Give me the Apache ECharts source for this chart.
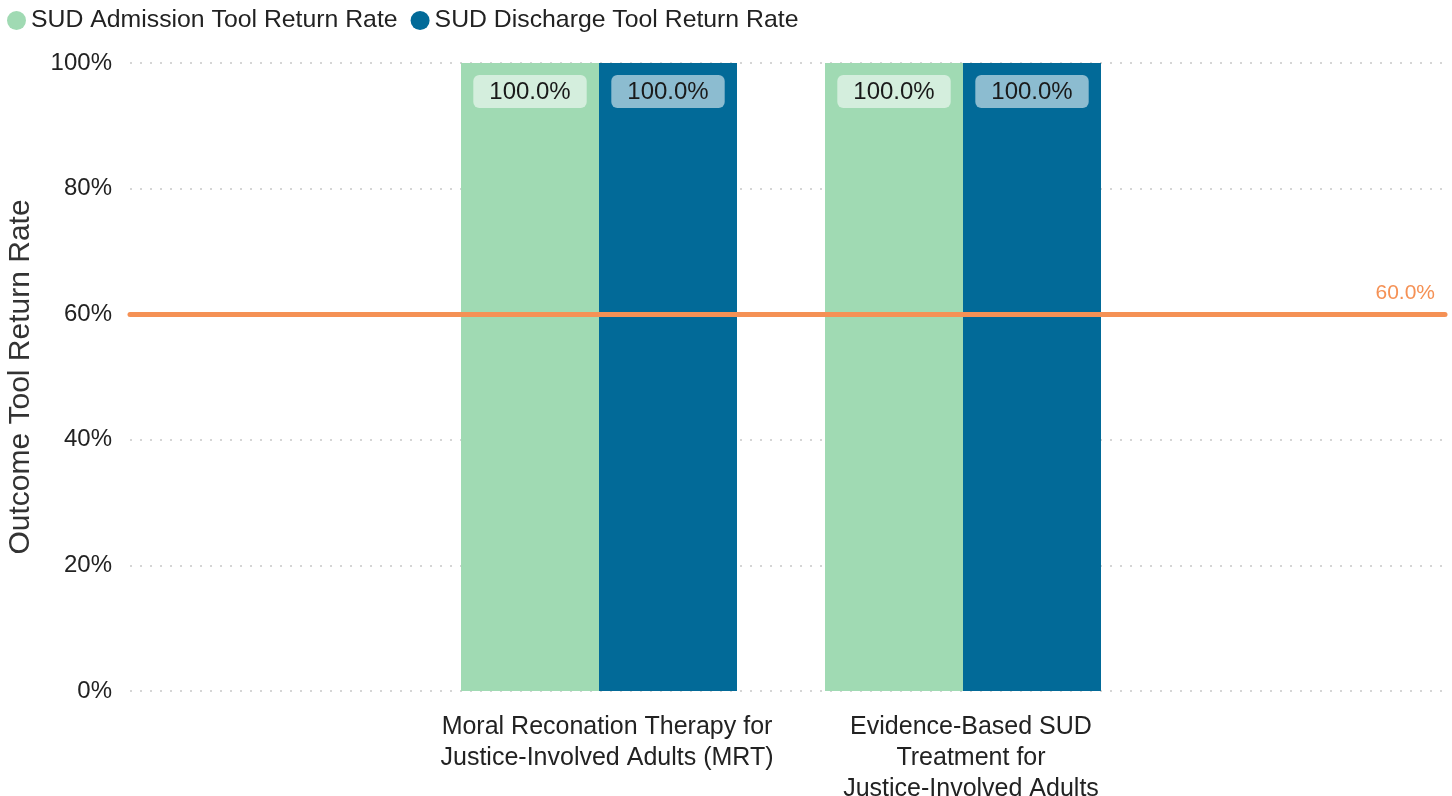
<!DOCTYPE html>
<html>
<head>
<meta charset="utf-8">
<script src="https://cdn.jsdelivr.net/npm/echarts@6/dist/echarts.min.js"></script>
<style>
  html, body { margin: 0; padding: 0; background: #fff; }
  #chart { width: 1452px; height: 796px; }
</style>
</head>
<body>
<div id="chart"></div>
<script>
// Programs shown on the x axis
const categories = [
  'Moral Reconation Therapy for\nJustice-Involved Adults (MRT)',
  'Evidence-Based SUD\nTreatment for\nJustice-Involved Adults'
];
// Return rates, in percent
const admissionRate = [100, 100];
const dischargeRate = [100, 100];
// Target return rate, in percent
const targetRate = 60;
// Y axis ticks
const yMin = 0, yMax = 100, yStep = 20;

const seriesNames = ['SUD Admission Tool Return Rate', 'SUD Discharge Tool Return Rate'];
const colors = ['#A0DAB3', '#026A98'];
const fontFamily = '"Liberation Sans", Arial, sans-serif';

const barLabel = {
  show: true,
  position: 'insideTop',
  distance: 12,
  formatter: p => p.value.toFixed(1) + '%',
  fontSize: 24,
  fontFamily,
  color: '#1a1a1a',
  backgroundColor: 'rgba(255,255,255,0.55)',
  borderRadius: 6,
  padding: [5, 16, 4, 16]
};

const chart = echarts.init(document.getElementById('chart'));
chart.setOption({
  animation: false,
  textStyle: { fontFamily },
  legend: {
    top: 8,
    left: 7,
    padding: 0,
    icon: 'circle',
    itemWidth: 19,
    itemHeight: 19,
    itemGap: 13,
    textStyle: { fontSize: 24.8, color: '#222' },
    data: seriesNames
  },
  grid: [
    { left: 130, right: 7, top: 63, bottom: 105, outerBoundsMode: 'none' },
    { left: 417, right: 307, top: 63, bottom: 105, outerBoundsMode: 'none' }
  ],
  xAxis: [
    { type: 'category', gridIndex: 0, data: [''], show: false },
    {
      type: 'category', gridIndex: 1, data: categories,
      axisLine: { show: false }, axisTick: { show: false },
      axisLabel: {
        interval: 0, hideOverlap: false,
        fontSize: 25, lineHeight: 31, color: '#222', margin: 21, fontFamily,
        padding: [0, 0, 0, 16]
      }
    }
  ],
  yAxis: [
    {
      type: 'value', gridIndex: 0, min: yMin, max: yMax, interval: yStep,
      name: 'Outcome Tool Return Rate',
      nameLocation: 'middle', nameGap: 94,
      nameTextStyle: { fontSize: 30, color: '#333' },
      axisLabel: { formatter: '{value}%', fontSize: 24, color: '#222', margin: 18 },
      axisLine: { show: false }, axisTick: { show: false },
      splitLine: { lineStyle: { type: [2, 8], color: '#c8c8c8', width: 1.5 } }
    },
    {
      type: 'value', gridIndex: 1, min: yMin, max: yMax, interval: yStep,
      show: false, splitLine: { show: false }
    }
  ],
  series: [
    {
      name: seriesNames[0], type: 'bar', xAxisIndex: 1, yAxisIndex: 1,
      data: admissionRate, barWidth: 138, barGap: '0%',
      itemStyle: { color: colors[0] }, label: barLabel
    },
    {
      name: seriesNames[1], type: 'bar', xAxisIndex: 1, yAxisIndex: 1,
      data: dischargeRate, barWidth: 138, barGap: '0%',
      itemStyle: { color: colors[1] }, label: barLabel
    },
    {
      name: 'Target', type: 'line', xAxisIndex: 0, yAxisIndex: 0,
      data: [], z: 5,
      markLine: {
        silent: true, symbol: 'none',
        lineStyle: { color: '#F59155', width: 5, type: 'solid', cap: 'round' },
        label: {
          position: 'insideEndTop', distance: [10, 10],
          formatter: p => p.value.toFixed(1) + '%',
          fontSize: 21, color: '#F59155'
        },
        data: [{ yAxis: targetRate }]
      }
    }
  ]
});
</script>
</body>
</html>
